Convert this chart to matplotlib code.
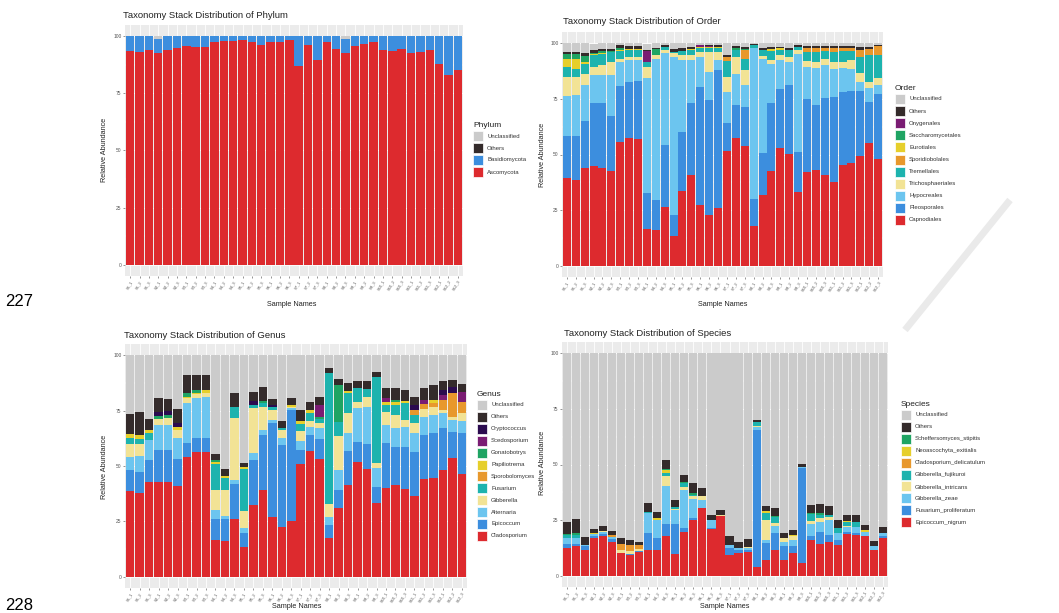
import numpy as np
import matplotlib
matplotlib.use('Agg')
import matplotlib.pyplot as plt
from matplotlib.patches import Rectangle
from matplotlib.lines import Line2D

plt.rcParams['font.family'] = ['Liberation Sans', 'DejaVu Sans']

W, H = 1059, 613

# nama sampel (36 sampel)
samples = ['S1_1', 'S1_2', 'S1_3', 'S2_1', 'S2_2', 'S2_3', 'S3_1', 'S3_2', 'S3_3',
           'S4_1', 'S4_2', 'S4_3', 'S5_1', 'S5_2', 'S5_3', 'S6_1', 'S6_2', 'S6_3',
           'S7_1', 'S7_2', 'S7_3', 'S8_1', 'S8_2', 'S8_3', 'S9_1', 'S9_2', 'S9_3',
           'S10_1', 'S10_2', 'S10_3', 'S11_1', 'S11_2', 'S11_3', 'S12_1', 'S12_2', 'S12_3']

# warna
RED = '#DD2A2E'
BLUE = '#3C8EDE'
LBLUE = '#6CC5EF'
PALE = '#F2E395'
TEAL = '#1DB3AE'
ORANGE = '#E8982C'
YELLOW = '#E6CF2B'
GREEN = '#1FA463'
PURPLE = '#7A1C73'
NAVY = '#2B0B4F'
DARK = '#342B2B'
GREY = '#CBCBCB'

# ---------------- Phylum ----------------
phylum_asco = [93.4, 93.0, 93.9, 92.7, 94.2, 94.9, 95.6, 95.3, 95.2, 97.4, 98.2, 98.2,
               98.5, 97.5, 96.4, 97.4, 97.4, 98.5, 86.9, 96.4, 89.5, 97.4, 94.5, 92.7,
               95.9, 96.8, 97.4, 94.2, 93.4, 94.6, 92.7, 93.1, 94.2, 88.0, 83.1, 85.1]
phylum_basidio = [6.6, 7.0, 6.1, 6.1, 5.8, 5.1, 4.4, 4.7, 4.8, 2.6, 1.8, 1.8,
                  1.5, 2.5, 3.6, 2.6, 2.6, 1.5, 13.1, 3.6, 10.5, 2.6, 5.5, 6.1,
                  4.1, 3.2, 2.6, 5.8, 6.6, 5.4, 7.3, 6.9, 5.8, 12.0, 16.9, 14.9]
phylum_others = [0, 0, 0, 0, 0, 0, 0, 0, 0, 0, 0, 0, 0, 0, 0, 0, 0, 0,
                 0, 0, 0, 0, 0, 0, 0, 0, 0, 0, 0, 0, 0, 0, 0, 0, 0, 0]
phylum_uncl = [0, 0, 0, 1.2, 0, 0, 0, 0, 0, 0, 0, 0, 0, 0, 0, 0, 0, 0,
               0, 0, 0, 0, 0, 1.2, 0, 0, 0, 0, 0, 0, 0, 0, 0, 0, 0, 0]

# ---------------- Order ----------------
ord_capno = [39.3, 38.6, 43.8, 44.8, 44.1, 42.6, 55.5, 57.5, 57.0, 16.4, 16.1, 26.6,
             13.5, 33.8, 40.8, 27.4, 22.9, 25.9, 51.6, 57.5, 54.0, 18.1, 31.8, 42.6,
             53.1, 50.1, 33.3, 42.3, 43.0, 40.8, 37.8, 45.3, 46.3, 49.5, 55.0, 48.0]
ord_pleo = [19.0, 19.7, 21.2, 28.1, 29.1, 24.8, 25.3, 25.1, 26.0, 16.1, 13.5, 27.7,
            9.4, 26.5, 32.4, 53.0, 51.6, 62.0, 12.4, 14.6, 17.5, 11.8, 18.7, 30.3,
            26.2, 31.1, 17.9, 32.4, 29.1, 34.7, 38.0, 32.9, 32.1, 29.0, 18.7, 29.1]
ord_hypo = [17.9, 18.4, 16.1, 12.7, 12.7, 18.2, 10.9, 9.7, 9.3, 51.9, 63.5, 41.1,
            71.0, 32.1, 19.1, 13.5, 12.7, 4.5, 14.2, 14.2, 9.7, 67.7, 42.6, 17.9,
            13.2, 10.5, 44.1, 14.6, 16.6, 14.6, 12.7, 10.5, 10.2, 4.2, 6.0, 4.2]
ord_tricho = [8.7, 8.2, 5.2, 3.7, 4.2, 6.0, 1.2, 1.5, 1.5, 4.9, 1.5, 1.5,
              1.5, 2.2, 2.2, 2.2, 9.0, 3.7, 6.7, 7.5, 6.7, 0.0, 1.2, 1.5,
              2.2, 2.2, 1.5, 2.5, 3.0, 2.7, 3.0, 3.0, 3.7, 3.7, 3.0, 3.0]
ord_tremel = [4.5, 3.7, 4.5, 5.2, 5.2, 4.2, 3.6, 3.0, 3.0, 2.2, 0.0, 1.5,
              0.7, 1.8, 2.2, 1.8, 1.5, 1.5, 7.0, 3.0, 5.2, 1.5, 2.5, 4.0,
              2.2, 3.0, 1.5, 4.2, 4.5, 3.6, 4.5, 4.8, 4.0, 7.5, 12.0, 10.5]
ord_sporid = [0, 0, 0, 0, 0, 0, 0, 0, 0, 0, 0, 0, 0, 0, 0, 0, 0, 0,
              1.9, 0, 3.7, 0, 0, 0, 0, 0, 0, 1.8, 1.8, 1.5, 1.8, 1.5, 1.5, 3.0, 2.7, 3.7]
ord_euro = [3.4, 4.2, 0.7, 0.7, 0.4, 0, 0.4, 0.4, 0.4, 0, 0, 0, 0, 0, 0.7, 0.4, 0.4, 0.7,
            0, 0, 0, 0, 0, 0.9, 0.7, 0, 0, 0, 0, 0, 0, 0, 0, 0, 0, 0]
ord_sacch = [2.1, 2.1, 2.7, 0.5, 0.6, 0.7, 0.7, 0.3, 0.3, 0, 2.7, 0, 0, 0, 0, 0, 0, 0,
             0, 1.0, 0.7, 0, 0, 0, 0, 0, 0, 0, 0, 0, 0, 0, 0, 0, 0, 0]
ord_onyg = [0, 0, 0, 0, 0, 0, 0, 0, 0, 4.8, 0, 0, 0, 0, 0, 0.7, 0.7, 0,
            0, 0, 0, 0, 0, 0, 0, 0, 0, 0, 0, 0, 0, 0, 0, 0, 0, 0]
ord_others = [1.2, 1.2, 1.5, 1.0, 1.2, 1.0, 1.5, 1.2, 1.2, 0.4, 0.3, 0.7,
              1.2, 1.2, 0.7, 0.3, 0.4, 0.7, 1.0, 0.9, 0.6, 0.4, 1.0, 0.9,
              0.7, 1.0, 0.7, 0.9, 0.7, 0.9, 0.9, 0.9, 0.9, 1.5, 0.9, 0.7]
ord_uncl = [3.9, 3.9, 4.2, 3.1, 2.4, 2.4, 0.9, 1.2, 1.3, 3.1, 2.4, 0.9,
            2.7, 2.4, 1.9, 0.6, 0.8, 1.0, 5.1, 1.2, 1.8, 0.4, 2.1, 1.8,
            1.6, 2.1, 0.9, 1.2, 1.3, 1.2, 1.2, 1.2, 1.2, 1.6, 1.8, 0.9]

# ---------------- Genus ----------------
gen_clado = [38.7, 37.7, 42.9, 42.9, 42.6, 41.1, 54.2, 56.5, 56.2, 16.7, 16.2, 26.1,
             13.7, 32.4, 39.2, 27.2, 22.7, 25.4, 50.8, 56.8, 53.2, 17.7, 31.2, 41.4,
             52.0, 48.6, 33.2, 40.2, 41.4, 39.6, 36.6, 44.0, 44.7, 48.2, 53.8, 46.2]
gen_epic = [9.5, 9.8, 9.8, 14.3, 14.6, 11.9, 6.0, 6.0, 6.3, 9.5, 9.9, 15.6,
            6.0, 20.3, 24.8, 42.0, 36.8, 49.8, 6.5, 7.2, 9.0, 5.7, 8.0, 15.3,
            8.7, 11.3, 7.5, 20.0, 17.3, 19.1, 19.5, 20.0, 20.0, 18.8, 11.7, 18.9]
gen_alter = [6.0, 7.1, 9.0, 11.3, 11.3, 9.8, 18.0, 18.0, 18.8, 4.1, 1.5, 2.0,
             2.3, 3.0, 2.3, 1.5, 3.0, 1.0, 3.8, 3.8, 4.8, 3.8, 9.0, 8.4,
             15.3, 16.8, 8.3, 8.3, 8.3, 9.0, 9.0, 8.3, 8.3, 6.8, 5.3, 5.1]
gen_gibb = [5.6, 5.3, 0.0, 2.7, 3.0, 3.5, 2.3, 1.8, 1.5, 9.0, 11.6, 28.1,
            7.8, 20.3, 10.5, 4.5, 3.8, 0.5, 4.8, 2.3, 2.3, 5.6, 15.5, 8.6,
            2.7, 4.5, 2.3, 6.0, 6.0, 3.0, 4.5, 3.5, 3.8, 1.5, 1.5, 3.5]
gen_fusa = [2.7, 2.3, 3.0, 0, 0, 0, 0, 0, 0, 11.6, 5.6, 5.0,
            18.9, 1.5, 1.5, 1.5, 1.0, 0, 3.0, 3.8, 2.0, 59.0, 6.3, 9.0,
            6.3, 3.5, 39.0, 3.0, 4.5, 7.5, 3.3, 0, 0, 0, 0, 0]
gen_sporo = [0, 0, 0, 0, 0, 0, 0, 0, 0, 0, 0, 0, 0, 0, 0, 0, 0, 0,
             0, 0, 0, 0, 0, 0, 0, 0, 0, 0, 0, 0, 2.3, 2.1, 1.5, 4.5, 10.5, 5.3]
gen_papil = [1.8, 2.0, 1.5, 0, 0, 1.5, 0.8, 0.8, 1.5, 0.8, 0.8, 0,
             0.8, 0, 0, 0, 0, 0.8, 1.5, 1.5, 0, 0, 0, 1.0,
             0, 0, 0, 1.5, 1.2, 1.0, 0, 0, 1.5, 0, 0, 0]
gen_gonat = [0, 0, 0, 1.5, 1.5, 0, 1.5, 1.2, 0, 1.2, 0, 0, 0, 0, 1.0, 0, 0, 0,
             0, 0, 1.0, 0, 16.5, 0, 0, 0, 0, 0, 1.0, 0, 0, 0, 0, 0, 0, 0]
gen_scedo = [0, 0, 0, 0, 0, 0, 0, 0, 0, 0, 0, 0, 0, 0, 0, 0, 0, 0,
             0, 0, 5.3, 0, 0, 0, 0, 0, 0, 1.5, 0, 0, 0, 2.0, 0, 2.0, 0, 4.5]
gen_crypto = [0, 0, 0, 1.8, 1.8, 1.5, 0, 0, 0, 0, 0, 0, 0, 1.8, 0, 0.8, 0, 0,
              0, 0, 0, 0, 0, 0, 0, 0, 0, 0, 0, 0, 2.3, 0, 0, 2.5, 3.0, 0]
gen_others = [9.3, 10.1, 5.0, 6.0, 5.3, 6.5, 8.3, 6.5, 6.5, 2.3, 3.0, 6.0,
              1.7, 4.2, 6.5, 2.7, 3.0, 3.3, 4.8, 3.3, 3.3, 2.3, 2.6, 3.5,
              3.3, 3.6, 2.3, 4.8, 5.3, 5.0, 3.8, 5.3, 6.5, 4.1, 3.0, 3.3]
gen_uncl = [26.4, 25.9, 28.8, 19.5, 19.9, 24.2, 9.0, 9.3, 9.3, 44.8, 51.5, 17.3,
            49.0, 16.5, 14.2, 19.8, 29.7, 19.2, 24.8, 21.3, 19.2, 6.0, 11.0, 12.8,
            11.7, 11.7, 7.5, 14.7, 15.0, 15.8, 18.8, 15.0, 13.8, 11.7, 11.3, 13.2]

# ---------------- Species ----------------
sp_epic = [12.4, 13.2, 11.7, 16.9, 18.0, 15.4, 10.2, 9.4, 10.5, 11.7, 11.4, 18.0,
           9.7, 19.9, 25.1, 30.4, 21.0, 27.0, 9.4, 10.2, 10.5, 4.2, 7.2, 11.7,
           7.2, 10.2, 5.7, 15.9, 14.4, 15.0, 13.9, 18.9, 18.4, 18.0, 11.7, 16.9]
sp_fusa = [1.9, 1.2, 1.5, 1.0, 0.7, 1.0, 0, 0.6, 0.5, 7.5, 5.5, 5.4,
           13.6, 1.5, 0.7, 0.1, 0.3, 0, 3.0, 1.5, 1.2, 61.4, 7.5, 7.5,
           6.0, 3.0, 42.7, 1.8, 5.5, 3.4, 2.2, 0.7, 0.7, 0, 0, 1.0]
sp_zeae = [2.5, 2.5, 0.5, 0.9, 1.0, 0.9, 0, 0, 0, 8.9, 8.2, 16.8,
           6.3, 17.2, 8.9, 3.7, 3.9, 0, 1.5, 0.7, 0.9, 1.2, 1.5, 3.0,
           2.2, 3.0, 0.7, 5.5, 4.5, 6.7, 3.0, 2.2, 3.0, 1.9, 1.5, 1.2]
sp_intri = [0, 0, 0, 0, 0.5, 0, 1.5, 1.2, 1.0, 0, 0, 4.8,
            0.5, 1.5, 1.3, 1.8, 0, 0.4, 0, 0, 0.3, 0.6, 9.0, 1.5,
            1.5, 1.5, 0, 1.5, 1.5, 1.5, 0, 0.7, 0, 0, 0, 0]
sp_fujik = [1.5, 1.5, 0, 0, 0, 0, 0, 0, 0, 0.5, 0, 1.0,
            1.0, 1.5, 0.5, 0, 0, 0, 0, 0, 0, 1.5, 3.0, 2.7,
            0, 0, 0, 3.0, 1.5, 0.7, 2.2, 1.5, 2.2, 0, 0, 0]
sp_clado = [0, 0, 0, 0, 0, 1.0, 2.7, 2.6, 1.9, 0, 0, 0, 0, 0, 0, 0, 0, 0,
            0, 0, 0, 0, 0, 0, 0, 0, 0, 0, 0, 0, 0, 0, 0, 0, 0, 0]
sp_neoas = [0, 0, 0.3, 0.4, 0, 0, 0, 0, 0, 0, 0.7, 1.5, 0, 0, 0, 0, 0, 0,
            0, 0, 0, 0, 1.0, 0, 0, 0.7, 0, 0, 0, 0, 0, 0.5, 0, 0.7, 0, 0]
sp_schef = [0.7, 0.7, 0, 0, 0, 0, 0, 0, 0, 0, 0, 0.7, 0, 0.7, 0.5, 0, 0, 0,
            0, 0, 0, 0, 0, 0.5, 0, 0, 0, 0.5, 0.9, 0, 0, 0, 0, 0, 0, 0]
sp_others = [5.2, 6.3, 3.4, 1.8, 2.0, 2.0, 2.5, 2.1, 1.5, 4.3, 3.0, 3.6,
             3.0, 3.0, 4.6, 3.4, 2.2, 2.0, 4.0, 3.0, 3.6, 1.2, 2.2, 3.5,
             2.3, 2.3, 1.0, 3.7, 4.0, 4.1, 3.7, 2.9, 3.0, 2.2, 2.5, 3.0]
sp_uncl = [75.8, 74.6, 82.6, 79.0, 77.8, 79.7, 83.1, 84.1, 84.6, 67.1, 71.2, 48.2,
           65.9, 54.7, 58.4, 60.6, 72.6, 70.6, 82.1, 84.6, 83.5, 29.9, 68.6, 69.6,
           80.8, 79.3, 49.9, 68.1, 67.7, 68.6, 75.0, 72.6, 72.7, 77.2, 84.3, 77.9]

fig = plt.figure(figsize=(W / 100, H / 100), dpi=100)
fig.patch.set_facecolor('white')


def fx(x):
    return x / W


def fy(y):
    return 1 - y / H


def draw_panel(box, layers, colors, title, title_xy, ylab_xy, xlab_xy,
               leg_title, leg_labels, leg_xy, leg_step):
    x0, y0, x1, y1 = box    # piksel, y dari atas
    ax = fig.add_axes([fx(x0), fy(y1), (x1 - x0) / W, (y1 - y0) / H])
    ax.set_facecolor('#EBEBEB')
    xs = np.arange(1, len(samples) + 1)
    bottom = np.zeros(len(samples))
    for vals, col in zip(layers, colors):
        vals = np.array(vals, dtype=float)
        ax.bar(xs, vals, bottom=bottom, width=0.9, color=col, linewidth=0, zorder=2)
        bottom += vals
    ax.set_xlim(0.45, len(samples) + 0.55)
    ax.set_ylim(-5, 105)
    ax.set_yticks([0, 25, 50, 75, 100])
    ax.set_yticklabels(['0', '25', '50', '75', '100'], fontsize=3.5, color='#555555')
    ax.set_yticks([12.5, 37.5, 62.5, 87.5], minor=True)
    ax.set_xticks(xs)
    ax.set_xticklabels(samples, rotation=60, ha='right', rotation_mode='anchor',
                       fontsize=3.0, color='#555555')
    ax.tick_params(axis='both', which='major', length=1.5, width=0.4, color='#444444', pad=1)
    ax.tick_params(axis='y', which='minor', length=0)
    ax.set_axisbelow(True)
    ax.grid(True, which='major', color='white', linewidth=0.6)
    ax.grid(True, which='minor', axis='y', color='white', linewidth=0.3)
    for s in ax.spines.values():
        s.set_visible(False)

    fig.text(fx(title_xy[0]), fy(title_xy[1]), title, fontsize=6.8, color='#222222',
             ha='left', va='center')
    fig.text(fx(ylab_xy[0]), fy(ylab_xy[1]), 'Relative Abundance', fontsize=5.2,
             rotation=90, ha='center', va='center', color='#222222')
    fig.text(fx(xlab_xy[0]), fy(xlab_xy[1]), 'Sample Names', fontsize=5.2,
             ha='center', va='center', color='#222222')

    # legenda manual
    lx, ly = leg_xy
    fig.text(fx(lx), fy(ly), leg_title, fontsize=6, ha='left', va='center', color='#222222')
    leg_cols = colors[::-1]
    for i, (lab, col) in enumerate(zip(leg_labels, leg_cols)):
        top = ly + 5 + i * leg_step
        fig.add_artist(Rectangle((fx(lx), fy(top + 10)), 10 / W, 10 / H,
                                 transform=fig.transFigure, facecolor=col,
                                 edgecolor='white', linewidth=0.5))
        fig.text(fx(lx + 14), fy(top + 5), lab, fontsize=4.3, ha='left', va='center',
                 color='#333333')
    return ax


# Phylum
draw_panel((125, 25, 463, 276),
           [phylum_asco, phylum_basidio, phylum_others, phylum_uncl],
           [RED, BLUE, DARK, GREY],
           'Taxonomy Stack Distribution of Phylum', (123, 15), (105, 150), (292, 304),
           'Phylum', ['Unclassified', 'Others', 'Basidiomycota', 'Ascomycota'],
           (473, 126), 12.0)

# Order
draw_panel((562, 32, 883, 277),
           [ord_capno, ord_pleo, ord_hypo, ord_tricho, ord_tremel, ord_sporid,
            ord_euro, ord_sacch, ord_onyg, ord_others, ord_uncl],
           [RED, BLUE, LBLUE, PALE, TEAL, ORANGE, YELLOW, GREEN, PURPLE, DARK, GREY],
           'Taxonomy Stack Distribution of Order', (563, 22), (543, 155), (723, 304),
           'Order', ['Unclassified', 'Others', 'Onygenales', 'Saccharomycetales',
                     'Eurotiales', 'Sporidiobolales', 'Tremellales', 'Trichosphaeriales',
                     'Hypocreales', 'Pleosporales', 'Capnodiales'],
           (895, 89), 12.1)

# Genus
draw_panel((125, 344, 467, 588),
           [gen_clado, gen_epic, gen_alter, gen_gibb, gen_fusa, gen_sporo, gen_papil,
            gen_gonat, gen_scedo, gen_crypto, gen_others, gen_uncl],
           [RED, BLUE, LBLUE, PALE, TEAL, ORANGE, YELLOW, GREEN, PURPLE, NAVY, DARK, GREY],
           'Taxonomy Stack Distribution of Genus', (124, 335), (105, 467), (297, 606),
           'Genus', ['Unclassified', 'Others', 'Cryptococcus', 'Scedosporium',
                     'Gonatobotrys', 'Papiliotrema', 'Sporobolomyces', 'Fusarium',
                     'Gibberella', 'Alternaria', 'Epicoccum', 'Cladosporium'],
           (477, 395), 11.9)

# Species
draw_panel((562, 342, 888, 587),
           [sp_epic, sp_fusa, sp_zeae, sp_intri, sp_fujik, sp_clado, sp_neoas,
            sp_schef, sp_others, sp_uncl],
           [RED, BLUE, LBLUE, PALE, TEAL, ORANGE, YELLOW, GREEN, DARK, GREY],
           'Taxonomy Stack Distribution of Species', (564, 333), (542, 463), (725, 606),
           'Species', ['Unclassified', 'Others', 'Scheffersomyces_stipitis',
                       'Neoascochyta_exitialis', 'Cladosporium_delicatulum',
                       'Gibberella_fujikuroi', 'Gibberella_intricans', 'Gibberella_zeae',
                       'Fusarium_proliferatum', 'Epicoccum_nigrum'],
           (901, 405), 11.9)

# nomor halaman dokumen
fig.text(fx(5), fy(302), '227', fontsize=12, ha='left', va='center', color='black')
fig.text(fx(5), fy(605), '228', fontsize=12, ha='left', va='center', color='black')

# watermark tipis
fig.add_artist(Line2D([fx(905), fx(1010)], [fy(330), fy(200)], transform=fig.transFigure,
                      color='#EAEAEA', linewidth=5, solid_capstyle='butt', zorder=0))

fig.savefig('out.png', dpi=100)
